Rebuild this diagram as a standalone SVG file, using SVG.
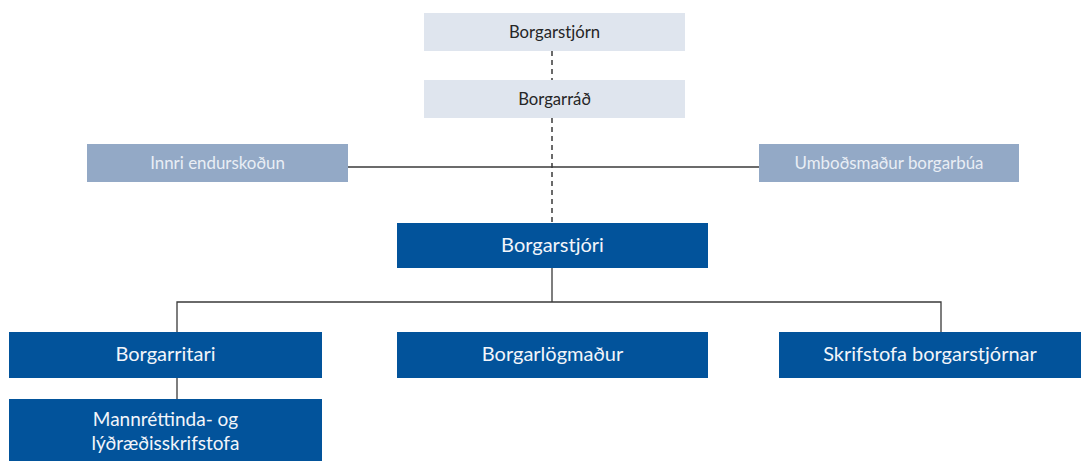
<svg xmlns="http://www.w3.org/2000/svg" width="1081" height="461" viewBox="0 0 1081 461">
<style>
.lt{fill:#dfe5ee}
.md{fill:#93a9c6}
.dk{fill:#02539b}
text{font-family:Lato,"Liberation Sans",sans-serif;text-anchor:middle}
.tl{fill:#262626;font-size:16.7px}
.tm{fill:#e9eef5;font-size:16.9px}
.td{fill:#f2f5fa;font-size:20px}
.c{stroke:#3a3a3a;stroke-width:1.3;fill:none}
.d{stroke-dasharray:5,4;stroke-width:1.5}
</style>
<rect width="1081" height="461" fill="#fff"/>
<g id="connectors">
<path class="c d" d="M552 51V80M552 118V223"/>
<path class="c" d="M348 167H759"/>
<path class="c" d="M552 268V302M177 332V302H941V332M177 378V399"/>
</g>
<g id="borgarstjorn"><rect class="lt" x="424" y="13" width="261" height="38"/><text class="tl" x="554.5" y="38">Borgarstjórn</text></g>
<g id="borgarrad"><rect class="lt" x="424" y="80" width="261" height="38"/><text class="tl" x="554.5" y="105">Borgarráð</text></g>
<g id="innri"><rect class="md" x="87" y="144" width="261" height="38"/><text class="tm" x="217.5" y="169">Innri endurskoðun</text></g>
<g id="umbodsmadur"><rect class="md" x="759" y="144" width="260" height="38"/><text class="tm" x="889" y="169">Umboðsmaður borgarbúa</text></g>
<g id="borgarstjori"><rect class="dk" x="397" y="223" width="311" height="45"/><text class="td" x="552.5" y="252">Borgarstjóri</text></g>
<g id="borgarritari"><rect class="dk" x="9" y="332" width="313" height="46"/><text class="td" x="165.5" y="361">Borgarritari</text></g>
<g id="borgarlogmadur"><rect class="dk" x="397" y="332" width="311" height="46"/><text class="td" x="552.5" y="361">Borgarlögmaður</text></g>
<g id="skrifstofa"><rect class="dk" x="779" y="332" width="302" height="46"/><text class="td" x="930" y="361">Skrifstofa borgarstjórnar</text></g>
<g id="mannrettinda"><rect class="dk" x="9" y="399" width="313" height="62"/><text class="td" x="165.5" y="426" style="font-size:19px">Mannréttinda- og</text><text class="td" x="165.5" y="450" style="font-size:19px">lýðræðisskrifstofa</text></g>
</svg>
